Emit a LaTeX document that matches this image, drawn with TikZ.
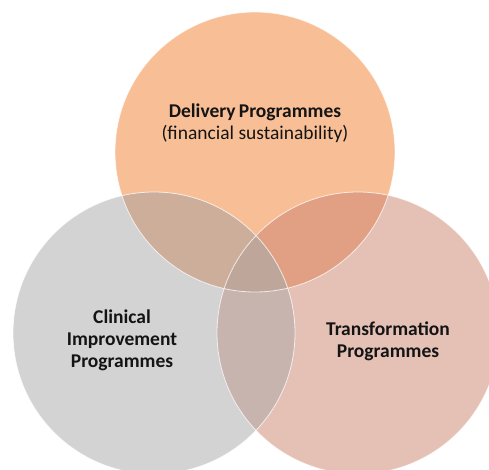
\documentclass[tikz,border=0pt]{standalone}
\usepackage{fontspec}
\setmainfont{Carlito}
\definecolor{topfill}{HTML}{F8BF97}
\definecolor{leftfill}{HTML}{D3D3D3}
\definecolor{rightfill}{HTML}{E5C1B5}
\definecolor{tlfill}{HTML}{CDAE9A}
\definecolor{trfill}{HTML}{E1A084}
\definecolor{lrfill}{HTML}{C7B4AF}
\definecolor{midfill}{HTML}{BFA69A}
\definecolor{labeltext}{HTML}{141414}
\begin{document}
\begin{tikzpicture}[x=1pt,y=-1pt,
  rim/.style={draw=white,draw opacity=0.75,line width=0.8pt},
  setlabel/.style={align=center,text=labeltext,font=\fontsize{19.5}{21.5}\selectfont,inner sep=0pt}]
\useasboundingbox (0,0) rectangle (489,470);
% the three sets
\coordinate (ctop) at (255,152);
\coordinate (cleft) at (154,333);
\coordinate (cright) at (358,333);
\fill[topfill] (ctop) circle[radius=140pt];
\fill[leftfill] (cleft) circle[radius=141pt];
\fill[rightfill] (cright) circle[radius=141pt];
% pairwise overlaps
\begin{scope}
  \clip (ctop) circle[radius=140pt];
  \fill[tlfill] (cleft) circle[radius=141pt];
  \fill[trfill] (cright) circle[radius=141pt];
\end{scope}
\begin{scope}
  \clip (cleft) circle[radius=141pt];
  \fill[lrfill] (cright) circle[radius=141pt];
  % common region of all three
  \clip (ctop) circle[radius=140pt];
  \fill[midfill] (cright) circle[radius=141pt];
\end{scope}
% thin light rims
\draw[rim] (cleft) circle[radius=141pt];
\draw[rim] (cright) circle[radius=141pt];
\draw[rim] (ctop) circle[radius=140pt];
% labels
\node[setlabel] (delivery) at (255,123) {\textbf{Delivery\,Programmes}\\(financial sustainability)};
\node[setlabel,font=\bfseries\fontsize{19.5}{22}\selectfont] (clinical) at (122,340) {Clinical\\Improvement\\Programmes};
\node[setlabel,font=\bfseries\fontsize{19.5}{22}\selectfont] (transform) at (388,341) {Transformation\\Programmes};
\end{tikzpicture}
\end{document}
